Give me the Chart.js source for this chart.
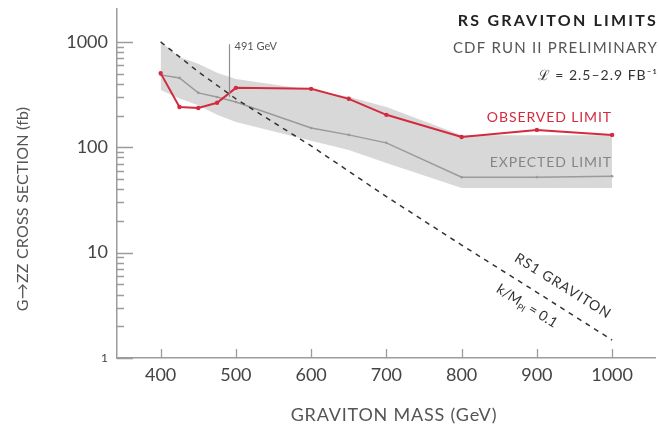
<!DOCTYPE html>
<html>
<head>
<meta charset="utf-8">
<script src="https://cdn.jsdelivr.net/npm/chart.js@4/dist/chart.umd.min.js"></script>
<style>
  html, body { margin: 0; padding: 0; background: #ffffff; }
  #wrap { width: 659px; height: 431px; }
</style>
</head>
<body>
<div id="wrap"><canvas id="c" width="659" height="431"></canvas></div>
<script>
// RS graviton -> ZZ cross-section limits vs graviton mass
const massPoints   = [400, 425, 450, 475, 500, 600, 650, 700, 800, 900, 1000];
const observedFb   = [505, 241, 236, 264, 366, 358, 288, 203, 125, 146, 131];
const expectedFb   = [486, 455, 328, 300, 269, 152, 131, 110, 52, 52, 53];
const bandHighFb   = [1000, 720, 620, 510, 445, 350, 301, 241, 130, 130, 130];
const bandLowFb    = [350, 290, 250, 203, 174, 115, 94, 71, 41, 41, 41];

const theoryMass   = [400, 450, 500, 600, 700, 800, 900, 1000];
const theoryFb     = [1000, 520, 288, 103, 34, 11.8, 4.2, 1.48];

const xTickValues  = [400, 500, 600, 700, 800, 900, 1000];
const yTickValues  = [1, 10, 100, 1000];
const yTickLabels  = ['1', '10', '100', '1000'];

const crossMass    = 491;           // observed limit meets the RS1 curve
const crossSpanFb  = [300, 950];    // extent of the marker line

const FONT = 'Lato, "Open Sans", sans-serif';
const RED = '#d42a3e';
const AXIS = '#9c9c9c';

const pts = (xs, ys) => xs.map((x, i) => ({ x, y: ys[i] }));

function drawText(ctx, str, x, y, opts) {
  ctx.save();
  ctx.translate(x, y);
  if (opts.angle) ctx.rotate(opts.angle * Math.PI / 180);
  ctx.font = opts.font;
  ctx.fillStyle = opts.color;
  ctx.textAlign = opts.align || 'left';
  ctx.textBaseline = opts.baseline || 'middle';
  if (opts.spacing) ctx.letterSpacing = opts.spacing;
  ctx.fillText(str, 0, 0);
  ctx.restore();
}

const decorations = {
  id: 'decorations',
  afterDraw(chart) {
    const { ctx, scales: { x, y } } = chart;
    const left = chart.chartArea.left, bottom = chart.chartArea.bottom;

    // inward tick marks on the y axis (decades long, 2..9 short)
    ctx.save();
    ctx.strokeStyle = AXIS;
    ctx.lineWidth = 1.3;
    ctx.beginPath();
    for (let d = 1; d <= 1000; d *= 10) {
      const maxK = d === 1000 ? 1 : 9;
      for (let k = 1; k <= maxK; k++) {
        const py = Math.round(y.getPixelForValue(k * d)) + 0.5;
        const len = k === 1 ? 16 : 7;
        ctx.moveTo(left, py);
        ctx.lineTo(left + len, py);
      }
    }
    // inward tick marks on the x axis
    xTickValues.forEach(v => {
      const px = Math.round(x.getPixelForValue(v)) + 0.5;
      ctx.moveTo(px, bottom);
      ctx.lineTo(px, bottom - 9);
    });
    ctx.stroke();

    // vertical marker at the crossing mass
    const cx = Math.round(x.getPixelForValue(crossMass)) + 0.5;
    ctx.strokeStyle = '#8e8e8e';
    ctx.lineWidth = 1.2;
    ctx.beginPath();
    ctx.moveTo(cx, y.getPixelForValue(crossSpanFb[1]));
    ctx.lineTo(cx, y.getPixelForValue(crossSpanFb[0]));
    ctx.stroke();
    ctx.restore();

    drawText(ctx, crossMass + ' GeV', cx + 5, y.getPixelForValue(crossSpanFb[1]) + 2,
      { font: '11px ' + FONT, color: '#555' });

    // axis titles
    drawText(ctx, 'GRAVITON MASS (GeV)', 394, 415,
      { font: '18px ' + FONT, color: '#555', align: 'center', spacing: '0.8px' });
    drawText(ctx, 'G\u2192ZZ CROSS SECTION (fb)', 23, 209,
      { font: '16px ' + FONT, color: '#555', align: 'center', angle: -90, spacing: '0.2px' });

    // header block
    drawText(ctx, 'RS GRAVITON LIMITS', 658, 21,
      { font: 'bold 16px ' + FONT, color: '#222', align: 'right', spacing: '2.2px' });
    drawText(ctx, 'CDF RUN II PRELIMINARY', 658, 48,
      { font: '15px ' + FONT, color: '#555', align: 'right', spacing: '1.2px' });
    drawText(ctx, '\u2112 = 2.5\u20132.9 FB\u207B\u00B9', 658, 75,
      { font: '14px ' + FONT, color: '#333', align: 'right', spacing: '1px' });

    // series labels
    drawText(ctx, 'OBSERVED LIMIT', 612, 117,
      { font: '14px ' + FONT, color: RED, align: 'right', spacing: '0.9px' });
    drawText(ctx, 'EXPECTED LIMIT', 612, 162,
      { font: '14px ' + FONT, color: '#858585', align: 'right', spacing: '0.9px' });

    // theory curve labels, along the dashed line
    drawText(ctx, 'RS1 GRAVITON', 563, 286,
      { font: '14px ' + FONT, color: '#333', align: 'center', angle: 32, spacing: '1px' });
    ctx.save();
    ctx.translate(527, 306);
    ctx.rotate(32 * Math.PI / 180);
    ctx.fillStyle = '#333';
    ctx.textBaseline = 'middle';
    const a = 'k/M', b = ' = 0.1';
    ctx.font = '9px ' + FONT;
    const wSub = ctx.measureText('Pl').width;
    ctx.font = '14px ' + FONT;
    const wa = ctx.measureText(a).width, wb = ctx.measureText(b).width;
    let sx = -(wa + wSub + wb) / 2;
    ctx.fillText(a, sx, 0); sx += wa;
    ctx.font = '9px ' + FONT;
    ctx.fillText('Pl', sx, 5); sx += wSub;
    ctx.font = '14px ' + FONT;
    ctx.fillText(b, sx, 0);
    ctx.restore();
  }
};

new Chart(document.getElementById('c'), {
  type: 'line',
  data: {
    datasets: [
      {
        label: 'band high',
        data: pts(massPoints, bandHighFb),
        borderWidth: 0, pointRadius: 0,
        backgroundColor: '#d8d8d8',
        fill: '+1', order: 5
      },
      {
        label: 'band low',
        data: pts(massPoints, bandLowFb),
        borderWidth: 0, pointRadius: 0,
        fill: false, order: 5
      },
      {
        label: 'Expected limit',
        data: pts(massPoints, expectedFb),
        borderColor: '#9a9a9a', borderWidth: 1.5,
        pointRadius: 1.3, pointBackgroundColor: '#9a9a9a', pointBorderWidth: 0,
        fill: false, order: 3
      },
      {
        label: 'RS1 graviton',
        data: pts(theoryMass, theoryFb),
        borderColor: '#333', borderWidth: 1.5, borderDash: [5, 5],
        pointRadius: 0, fill: false, order: 2
      },
      {
        label: 'Observed limit',
        data: pts(massPoints, observedFb),
        borderColor: RED, borderWidth: 2,
        pointRadius: 2.2, pointBackgroundColor: RED, pointBorderWidth: 0,
        fill: false, order: 1
      }
    ]
  },
  options: {
    responsive: false,
    devicePixelRatio: 1,
    animation: false,
    layout: { padding: { top: 9, right: 2, left: 0, bottom: 0 } },
    plugins: { legend: { display: false }, tooltip: { enabled: false } },
    elements: { line: { tension: 0 } },
    scales: {
      x: {
        type: 'linear',
        min: 342, max: 1057,
        afterBuildTicks: s => { s.ticks = xTickValues.map(v => ({ value: v })); },
        afterFit: s => { s.height = 73; s.paddingLeft = 0; s.paddingRight = 0; },
        grid: { display: false, drawTicks: false },
        border: { display: true, color: AXIS, width: 1.5 },
        ticks: {
          autoSkip: false, maxRotation: 0, padding: 6,
          color: '#444', font: { family: FONT, size: 18 },
          callback: v => String(v)
        }
      },
      y: {
        type: 'logarithmic',
        min: 1, max: 2050,
        afterBuildTicks: s => { s.ticks = yTickValues.map(v => ({ value: v })); },
        afterFit: s => { s.width = 117; s.paddingTop = 0; s.paddingBottom = 0; },
        grid: { display: false, drawTicks: false },
        border: { display: true, color: AXIS, width: 1.5 },
        ticks: {
          padding: 9, color: '#444',
          font: c => ({ family: FONT, size: (c.tick && c.tick.value === 1) ? 12 : 18 }),
          callback: (v, i) => yTickLabels[i]
        }
      }
    }
  },
  plugins: [decorations]
});
</script>
</body>
</html>
